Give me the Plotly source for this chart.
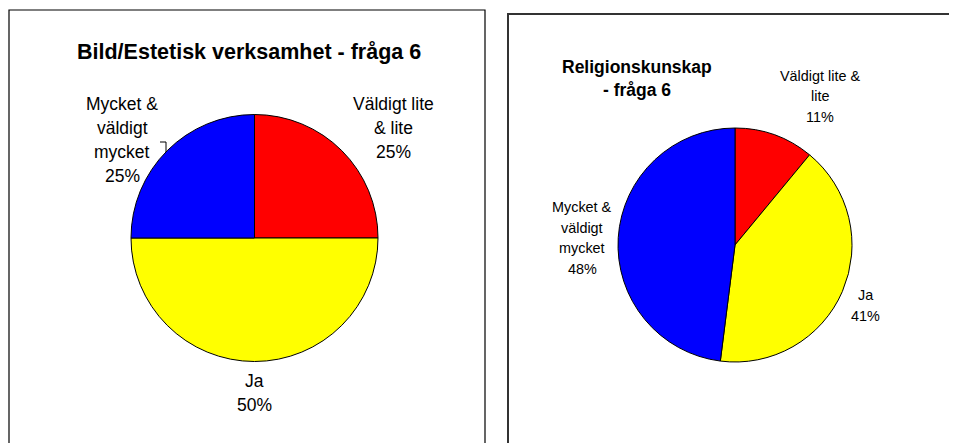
import plotly.graph_objects as go

# The page body has an 8px margin, so the figure is drawn 8px smaller and
# coordinates below (screen pixels) are shifted by that offset.
OFF = 8
W, H = 957 - OFF, 443 - OFF

categories = ["Väldigt lite & lite", "Ja", "Mycket & väldigt mycket"]
colors = ["#FF0000", "#FFFF00", "#0000FF"]
bild_values = [25, 50, 25]
relig_values = [11, 41, 48]

bild_title = "Bild/Estetisk verksamhet - fråga 6"
relig_title = ["Religionskunskap", "- fråga 6"]

bild_labels = [
    ["Väldigt lite", "& lite", "25%"],
    ["Ja", "50%"],
    ["Mycket &", "väldigt", "mycket", "25%"],
]
relig_labels = [
    ["Väldigt lite &", "lite", "11%"],
    ["Ja", "41%"],
    ["Mycket &", "väldigt", "mycket", "48%"],
]


def px(x):
    return (x - OFF) / W


def py(y):
    return 1 - (y - OFF) / H


fig = go.Figure()

fig.add_trace(go.Pie(
    labels=categories, values=bild_values, sort=False, direction="clockwise",
    rotation=0, textinfo="none", hoverinfo="label+percent", showlegend=False,
    marker=dict(colors=colors, line=dict(color="black", width=1)),
    domain=dict(x=[px(131), px(378)], y=[py(361.5), py(114.5)]),
))
fig.add_trace(go.Pie(
    labels=categories, values=relig_values, sort=False, direction="clockwise",
    rotation=0, textinfo="none", hoverinfo="label+percent", showlegend=False,
    marker=dict(colors=colors, line=dict(color="black", width=1)),
    domain=dict(x=[px(618), px(852)], y=[py(362), py(128)]),
))

annotations = []


def add_lines(lines, cx, y0, dy, size, bold=False):
    for i, t in enumerate(lines):
        annotations.append(dict(
            x=px(cx), y=py(y0 + i * dy), xref="paper", yref="paper",
            text=f"<b>{t}</b>" if bold else t, showarrow=False,
            xanchor="center", yanchor="middle",
            font=dict(family="Liberation Sans, Arial", size=size, color="black"),
        ))


# left chart
add_lines([bild_title], 249, 52, 0, 21.5, bold=True)
add_lines(bild_labels[0], 393, 104, 24, 17.5)
add_lines(bild_labels[1], 254, 381, 24, 17.5)
add_lines(bild_labels[2], 122, 104, 24, 17.5)

# right chart
add_lines(relig_title, 637, 67, 23, 17.5, bold=True)
add_lines(relig_labels[0], 820, 76, 20.5, 14.4)
add_lines(relig_labels[1], 865, 295, 21, 14.4)
add_lines(relig_labels[2], 582, 207, 20.5, 14.4)

shapes = [
    dict(type="rect", xref="paper", yref="paper",
         x0=px(9), x1=px(485), y0=py(460), y1=py(10),
         line=dict(color="black", width=1.2), fillcolor="rgba(0,0,0,0)"),
    dict(type="rect", xref="paper", yref="paper",
         x0=px(508), x1=px(975), y0=py(460), y1=py(14),
         line=dict(color="#333333", width=2), fillcolor="rgba(0,0,0,0)"),
    # leader line for the blue label in left chart
    dict(type="path", xref="paper", yref="paper",
         path=f"M {px(160)} {py(142)} L {px(166)} {py(142)} L {px(166)} {py(152)}",
         line=dict(color="black", width=1)),
]

fig.update_layout(
    width=W, height=H, margin=dict(l=0, r=0, t=0, b=0),
    paper_bgcolor="white", plot_bgcolor="white",
    annotations=annotations, shapes=shapes,
)

fig.write_html("out.html")
